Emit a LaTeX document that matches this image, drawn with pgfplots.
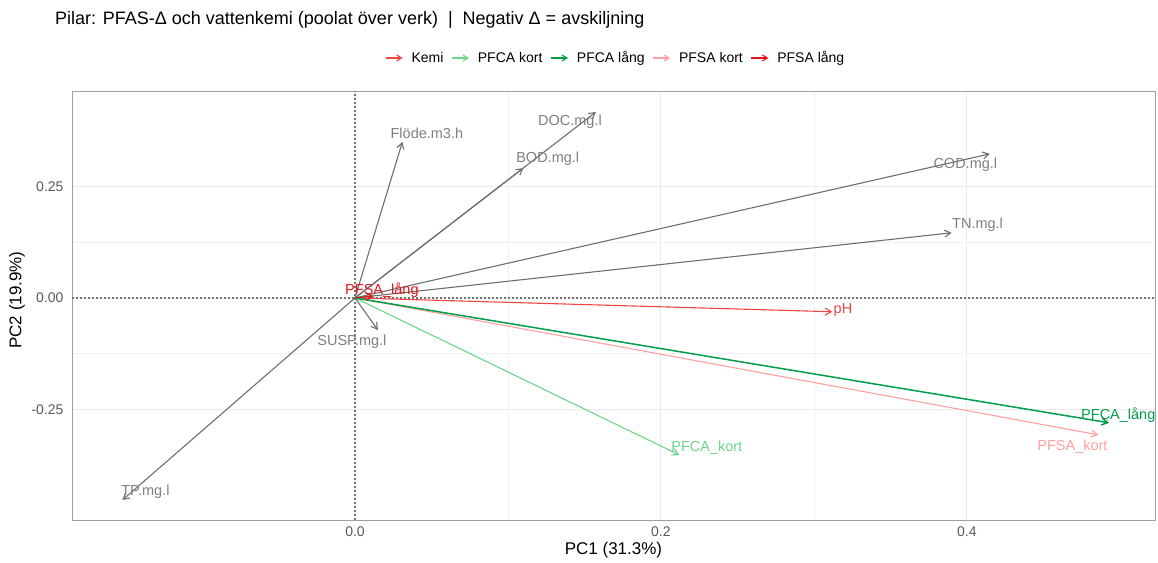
\documentclass[border=0pt]{standalone}
\usepackage{fontspec}
\setmainfont{Liberation Sans}
\usepackage{pgfplots}
\pgfplotsset{compat=1.18}
\usetikzlibrary{arrows.meta}

\definecolor{kemi}{HTML}{EE4444}
\definecolor{pfcakort}{HTML}{6CD58A}
\definecolor{pfcalang}{HTML}{009E49}
\definecolor{pfsakort}{HTML}{FFA0A0}
\definecolor{pfsalang}{HTML}{E3141B}
\definecolor{chem}{HTML}{6E6E6E}
\definecolor{chemtxt}{HTML}{7F7F7F}
\definecolor{gridc}{HTML}{EBEBEB}

\tikzset{pca/.style={line width=1.1bp, -{Straight Barb[length=6bp,width=7bp]}}}

\begin{document}
\begin{tikzpicture}
\begin{axis}[
  name=ax,
  width=1083bp, height=429bp, scale only axis,
  xmin=-0.185, xmax=0.523, ymin=-0.498, ymax=0.464,
  xtick={0,0.2,0.4}, xticklabels={0.0,0.2,0.4},
  ytick={-0.25,0,0.25}, yticklabels={-0.25,0.00,0.25},
  minor x tick num=1, minor y tick num=1,
  grid=both, major grid style={gridc, line width=0.9bp},
  minor grid style={gridc!70, line width=0.7bp},
  major tick length=0pt, minor tick length=0pt,
  axis line style={gray!75, line width=1bp},
  tick label style={font=\fontsize{14bp}{16bp}\selectfont, text=black!65},
  xticklabel style={yshift=-3bp},
  yticklabel style={xshift=-5bp},
  clip=false,
  legend columns=-1,
  legend style={at={(0.502,1.077)}, anchor=center, draw=none, fill=none,
    font=\fontsize{14bp}{16bp}\selectfont, column sep=6bp},
  legend image code/.code={\draw[#1, line width=1.1bp, -{Straight Barb[length=5bp,width=6bp]}] (0bp,0bp) -- (17bp,0bp);},
]
% legend entries
\addlegendimage{kemi}\addlegendentry{Kemi}
\addlegendimage{pfcakort}\addlegendentry{PFCA kort}
\addlegendimage{pfcalang}\addlegendentry{PFCA lång}
\addlegendimage{pfsakort}\addlegendentry{PFSA kort}
\addlegendimage{pfsalang}\addlegendentry{PFSA lång}

% zero lines
\draw[black!55, line width=1.3bp, dash pattern=on 2bp off 2bp] (axis cs:0,-0.498) -- (axis cs:0,0.464);
\draw[black!55, line width=1.3bp, dash pattern=on 2bp off 2bp] (axis cs:-0.185,0) -- (axis cs:0.523,0);

% chemistry loadings
\addplot[chem, pca, forget plot] coordinates {(0,0) (0.031,0.350)};
\addplot[chem, pca, forget plot] coordinates {(0,0) (0.1575,0.417)};
\addplot[chem, pca, forget plot] coordinates {(0,0) (0.110,0.291)};
\addplot[chem, pca, forget plot] coordinates {(0,0) (0.415,0.323)};
\addplot[chem, pca, forget plot] coordinates {(0,0) (0.390,0.146)};
\addplot[chem, pca, forget plot] coordinates {(0,0) (0.015,-0.072)};
\addplot[chem, pca, forget plot] coordinates {(0,0) (-0.152,-0.453)};
\addplot[kemi, pca, forget plot] coordinates {(0,0) (0.312,-0.031)};
% PFAS loadings
\addplot[pfcakort, pca, forget plot] coordinates {(0,0) (0.212,-0.352)};
\addplot[pfsakort, pca, forget plot] coordinates {(0,0) (0.486,-0.307)};
\addplot[pfcalang, pca, line width=1.5bp, forget plot] coordinates {(0,0) (0.493,-0.280)};
\addplot[pfsalang, pca, forget plot] coordinates {(0,0) (0.012,0.004)};

% labels
\begin{scope}[every node/.style={font=\fontsize{14.5bp}{16bp}\selectfont, inner sep=0pt}]
\node[text=chemtxt] at (axis cs:0.047,0.370) {Flöde.m3.h};
\node[text=chemtxt] at (axis cs:0.1405,0.395) {DOC.mg.l};
\node[text=chemtxt] at (axis cs:0.126,0.312) {BOD.mg.l};
\node[text=chemtxt] at (axis cs:0.399,0.298) {COD.mg.l};
\node[text=chemtxt] at (axis cs:0.407,0.164) {TN.mg.l};
\node[text=chemtxt] at (axis cs:-0.002,-0.099) {SUSP.mg.l};
\node[text=chemtxt] at (axis cs:-0.137,-0.435) {TP.mg.l};
\node[text=kemi] at (axis cs:0.319,-0.027) {pH};
\node[text=pfsalang] at (axis cs:0.0176,0.018) {PFSA\_lång};
\node[text=pfcakort] at (axis cs:0.230,-0.336) {PFCA\_kort};
\node[text=pfcalang] at (axis cs:0.499,-0.262) {PFCA\_lång};
\node[text=pfsakort] at (axis cs:0.469,-0.334) {PFSA\_kort};
\end{scope}
\end{axis}

\node[anchor=west, inner sep=0pt, font=\fontsize{18bp}{20bp}\selectfont] at ([shift={(-17bp,71bp)}]ax.north west)
  {Pilar: PFAS-Δ och vattenkemi (poolat över verk) \ |\ \ Negativ Δ = avskiljning};
\node[font=\fontsize{17bp}{19bp}\selectfont] at ([shift={(0bp,-30bp)}]ax.south) {PC1 (31.3\%)};
\node[rotate=90, font=\fontsize{17bp}{19bp}\selectfont] at ([shift={(-55bp,5.5bp)}]ax.west) {PC2 (19.9\%)};

\pgfresetboundingbox
\path[use as bounding box] ([shift={(-72bp,-42bp)}]ax.south west) rectangle ([shift={(3bp,91bp)}]ax.north east);
\end{tikzpicture}
\end{document}
